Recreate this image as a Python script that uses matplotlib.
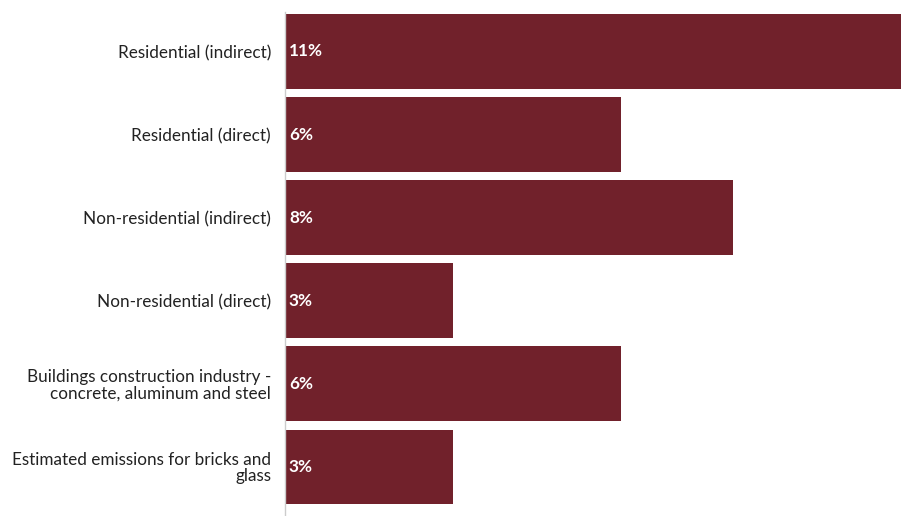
import matplotlib.pyplot as plt

categories = [
    "Residential (indirect)",
    "Residential (direct)",
    "Non-residential (indirect)",
    "Non-residential (direct)",
    "Buildings construction industry -\nconcrete, aluminum and steel",
    "Estimated emissions for bricks and\nglass",
]
values = [11, 6, 8, 3, 6, 3]
value_labels = ["11%", "6%", "8%", "3%", "6%", "3%"]

bar_color = "#71212b"

fig = plt.figure(figsize=(9.04, 5.16), dpi=100)
ax = fig.add_axes([285 / 904, 0, 616 / 904, 504 / 516])

pos = list(range(len(categories)))
ax.barh(pos, values, height=0.9, color=bar_color)

for y, v, lab in zip(pos, values, value_labels):
    ax.text(0.07, y, lab, color="white", fontsize=12.3, fontweight="bold",
            family="Lato", va="center", ha="left")

ax.set_xlim(0, 11)
ax.set_ylim(5.59, -0.475)
ax.set_yticks(pos)
ax.set_yticklabels(categories, fontsize=12.3, family="Lato", color="#222222",
                   ha="right", multialignment="right", linespacing=1.0)
ax.tick_params(axis="y", length=0, pad=10)
ax.set_xticks([])

for side in ["top", "right", "bottom"]:
    ax.spines[side].set_visible(False)
ax.spines["left"].set_color("#cccccc")
ax.spines["left"].set_linewidth(1)

fig.savefig("out.png", dpi=100)
